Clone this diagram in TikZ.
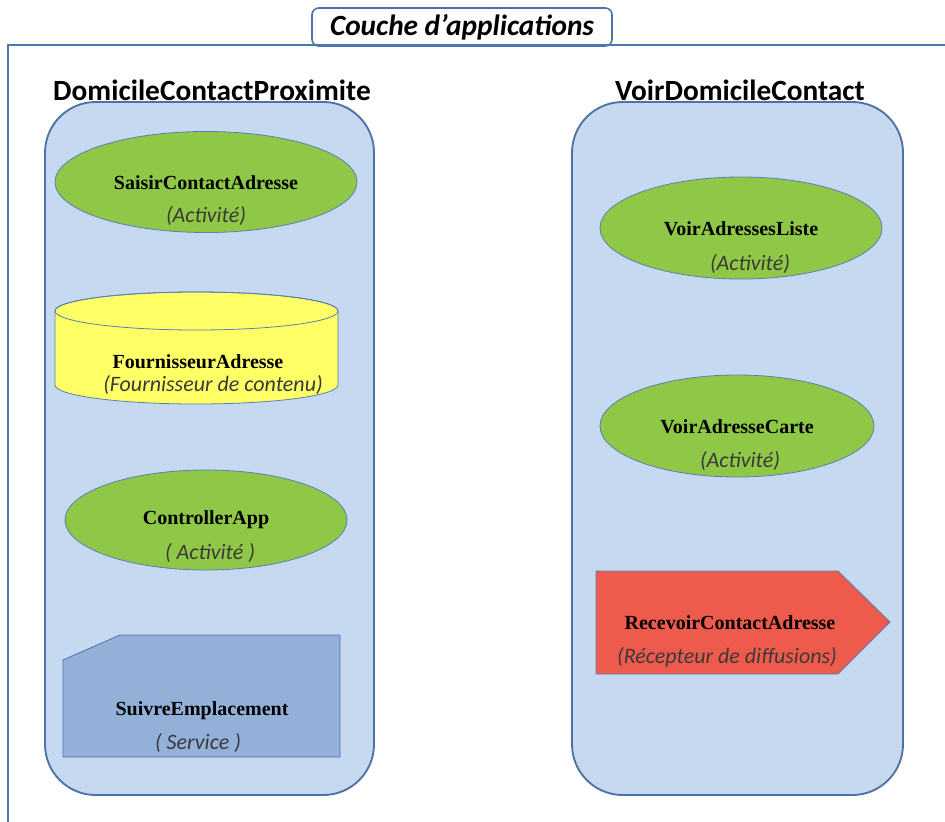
\documentclass[tikz,border=0pt]{standalone}
\usepackage{fontspec}
\setmainfont{Carlito}
\newfontfamily\namefont{Liberation Serif}
\usetikzlibrary{shapes.geometric}

\definecolor{frameblue}{HTML}{4A78B0}
\definecolor{edgeblue}{HTML}{4D73A6}
\definecolor{panelfill}{HTML}{C6D9F0}
\definecolor{actgreen}{HTML}{8FC846}
\definecolor{provyellow}{HTML}{FFFF66}
\definecolor{recvred}{HTML}{EE5B4C}
\definecolor{servblue}{HTML}{93B1D8}
\definecolor{thinedge}{HTML}{5A7FB0}
\definecolor{kindgray}{HTML}{3A3A3A}

\tikzset{
  panel/.style={draw=edgeblue, line width=1.4pt, fill=panelfill, rounded corners=38pt},
  activity/.style={ellipse, draw=thinedge, line width=0.6pt, fill=actgreen, inner sep=0pt},
  shapeedge/.style={draw=thinedge, line width=0.6pt},
  compname/.style={inner sep=0pt, font=\namefont\bfseries\fontsize{15}{17}\selectfont},
  compkind/.style={inner sep=0pt, text=kindgray, font=\itshape\fontsize{16.5}{19}\selectfont},
  panellabel/.style={inner sep=0pt, font=\bfseries\fontsize{22}{26}\selectfont},
  layertab/.style={draw=edgeblue, line width=1.2pt, fill=white, rounded corners=5pt},
  layerframe/.style={draw=frameblue, line width=1.8pt}
}

\begin{document}
\begin{tikzpicture}[x=0.75pt, y=-0.75pt]
\useasboundingbox (0,0) rectangle (945,821);

% application layer frame and its tab
\draw[layertab] (312,8) rectangle (612,46);
\draw[layerframe] (8,825) -- (8,45) -- (950,45);
\node[inner sep=0pt, font=\bfseries\itshape\fontsize{22}{26}\selectfont] (layer) at (462,27) {Couche d’applications};

% the two applications
\draw[panel] (45,102) rectangle (374,795);
\draw[panel] (572,102) rectangle (903,795);
\node[panellabel] (appA) at (212,90) {DomicileContactProximite};
\node[panellabel] (appB) at (740,90) {VoirDomicileContact};

% DomicileContactProximite components
\node[activity, minimum width=226.5pt, minimum height=75.75pt] (saisir) at (206,182) {};
\node[compname] (saisirName) at (206,183) {SaisirContactAdresse};
\node[compkind] (saisirKind) at (206,216) {(Activité)};

\draw[shapeedge, fill=provyellow] (55,311) -- (55,385)
  arc[start angle=180, end angle=360, x radius=106.125pt, y radius=14.25pt]
  -- (338,311)
  arc[start angle=0, end angle=180, x radius=106.125pt, y radius=14.25pt] -- cycle;
\draw[shapeedge] (196.5,311) ellipse[x radius=106.125pt, y radius=14.25pt];
\node[compname] (provName) at (198,362) {FournisseurAdresse};
\node[compkind] (provKind) at (213,385) {(Fournisseur de contenu)};

\node[activity, minimum width=211.5pt, minimum height=75pt] (ctrl) at (206,520) {};
\node[compname] (ctrlName) at (206,520) {ControllerApp};
\node[compkind] (ctrlKind) at (210,553) {( Activité )};

\draw[shapeedge, draw=edgeblue, fill=servblue] (120,635) -- (340,635) -- (340,757) -- (63,757) -- (63,660) -- cycle;
\node[compname] (servName) at (202,711) {SuivreEmplacement};
\node[compkind] (servKind) at (198,743) {( Service )};

% VoirDomicileContact components
\node[activity, minimum width=211.5pt, minimum height=76.5pt] (liste) at (741,228) {};
\node[compname] (listeName) at (741,229) {VoirAdressesListe};
\node[compkind] (listeKind) at (750,264) {(Activité)};

\node[activity, minimum width=205.5pt, minimum height=76.5pt] (carte) at (737,426) {};
\node[compname] (carteName) at (737,427) {VoirAdresseCarte};
\node[compkind] (carteKind) at (740,461) {(Activité)};

\draw[shapeedge, fill=recvred] (596,571) -- (838,571) -- (890,622) -- (838,674) -- (596,674) -- cycle;
\node[compname] (recvName) at (730,623) {RecevoirContactAdresse};
\node[compkind] (recvKind) at (727,657) {(Récepteur de diffusions)};
\end{tikzpicture}
\end{document}
